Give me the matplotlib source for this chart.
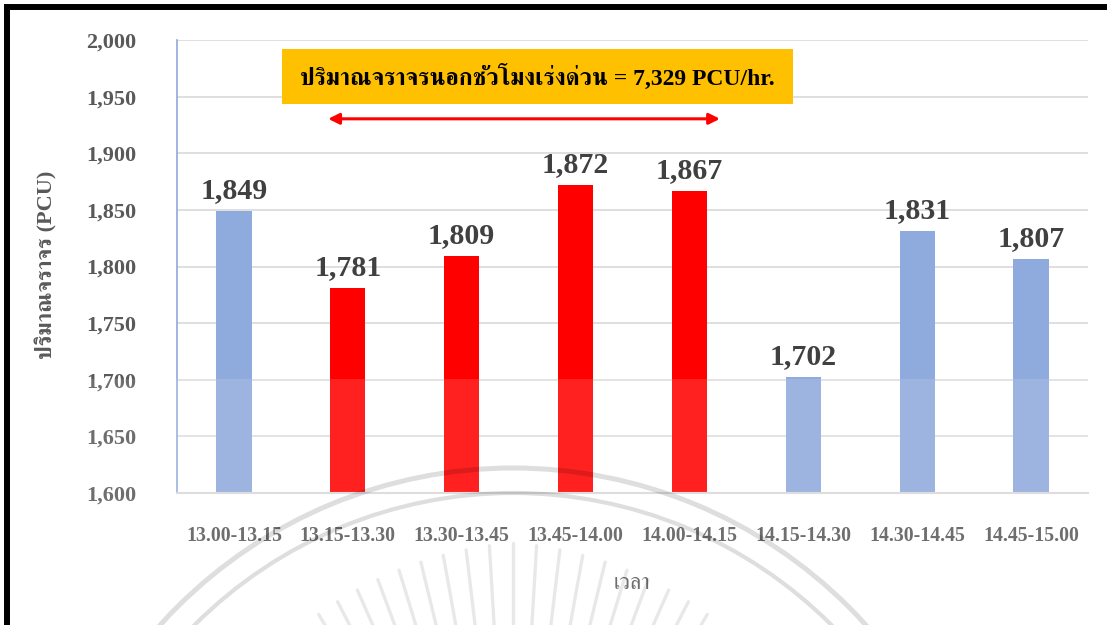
import numpy as np
import matplotlib
matplotlib.use("Agg")
import matplotlib.pyplot as plt
from matplotlib.patches import Rectangle, Arc

# ข้อมูลปริมาณจราจรรายช่วง 15 นาที
periods = ["13.00-13.15", "13.15-13.30", "13.30-13.45", "13.45-14.00",
           "14.00-14.15", "14.15-14.30", "14.30-14.45", "14.45-15.00"]
volumes = [1849, 1781, 1809, 1872, 1867, 1702, 1831, 1807]
peak_hour = [False, True, True, True, True, False, False, False]
peak_total = 7329

y_ticks = [1600, 1650, 1700, 1750, 1800, 1850, 1900, 1950, 2000]

plt.rcParams['font.family'] = ['Liberation Serif', 'FreeSerif']

fig = plt.figure(figsize=(11.07, 6.25), dpi=100)
ax = fig.add_axes([0.1599, 0.2112, 0.8229, 0.7248])

x = np.arange(len(periods))
colors = ['#FF0000' if p else '#8FAADC' for p in peak_hour]
ax.bar(x, volumes, width=0.31, color=colors, zorder=2)

# ตัวเลขบนแท่ง
for xi, v in zip(x, volumes):
    ax.annotate(f"{v:,}", (xi, v), xytext=(0, 5), textcoords='offset points',
                ha='center', va='bottom', fontsize=21.5, fontweight='bold',
                color='#404040')

ax.set_xlim(-0.5, len(periods) - 0.5)
ax.set_ylim(1600, 2000)
ax.set_yticks(y_ticks)
ax.set_yticklabels([f"{t:,}" for t in y_ticks])
ax.set_xticks(x)
ax.set_xticklabels(periods)
ax.tick_params(axis='y', length=0, pad=29, labelsize=16, labelcolor='#595959')
ax.tick_params(axis='x', length=0, pad=24, labelsize=14.3, labelcolor='#595959')
for lab in ax.get_xticklabels() + ax.get_yticklabels():
    lab.set_fontweight('bold')

ax.grid(axis='y', color='#D9D9D9', linewidth=1.2, zorder=0)
ax.set_axisbelow(True)
for s in ['top', 'right']:
    ax.spines[s].set_visible(False)
ax.spines['left'].set_color('#8EA9DB')
ax.spines['left'].set_linewidth(1.2)
ax.spines['bottom'].set_color('#D9D9D9')
ax.spines['bottom'].set_linewidth(1.5)

ax.set_ylabel("ปริมาณจราจร (PCU)", fontsize=16, fontweight='bold', color='#595959')
ax.yaxis.set_label_coords(-0.131, 0.503)
ax.set_xlabel("เวลา", fontsize=16, color='#595959')
ax.xaxis.set_label_coords(0.4995, -0.181)

# กล่องข้อความรวมชั่วโมงนอกเร่งด่วน
ax.add_patch(Rectangle((0.115, 0.859), 0.561, 0.121, transform=ax.transAxes,
                       facecolor='#FFC000', edgecolor='none', zorder=3, clip_on=False))
ax.text(0.3957, 0.918, f"ปริมาณจราจรนอกชั่วโมงเร่งด่วน = {peak_total:,} PCU/hr.",
        transform=ax.transAxes, ha='center', va='center', fontsize=17,
        fontweight='bold', color='black', zorder=4)
ax.annotate("", xy=(0.596, 0.826), xytext=(0.166, 0.826), xycoords='axes fraction',
            arrowprops=dict(arrowstyle='<|-|>', color='#FF0000', lw=2.2,
                            mutation_scale=16, shrinkA=0, shrinkB=0))

# ชั้นบนสุด: กรอบหน้า, แถบจาง และลายน้ำตรา
top = fig.add_axes([0, 0, 1, 1], zorder=10)
top.set_xlim(0, 1107)
top.set_ylim(625, 0)
top.axis('off')
top.patch.set_alpha(0)
top.plot([7, 7, 1107], [625, 7, 7], color='black', lw=4.3, solid_joinstyle='miter')
top.add_patch(Rectangle((0, 379), 1107, 246, facecolor='white', alpha=0.13,
                        edgecolor='none'))
cx, cy = 513, 943
for r, w in [(475, 3.6), (450, 3.0)]:
    top.add_patch(Arc((cx, cy), 2 * r, 2 * r, theta1=0, theta2=360,
                      color='black', alpha=0.13, lw=w))
for ang in np.arange(-34, 35, 3.4):
    a = np.deg2rad(ang)
    r1, r2 = 290, 400 - abs(ang) * 0.6
    top.plot([cx + r1 * np.sin(a), cx + r2 * np.sin(a)],
             [cy - r1 * np.cos(a), cy - r2 * np.cos(a)],
             color='black', alpha=0.09, lw=2.4, solid_capstyle='round')

fig.savefig("out.png", dpi=100)
